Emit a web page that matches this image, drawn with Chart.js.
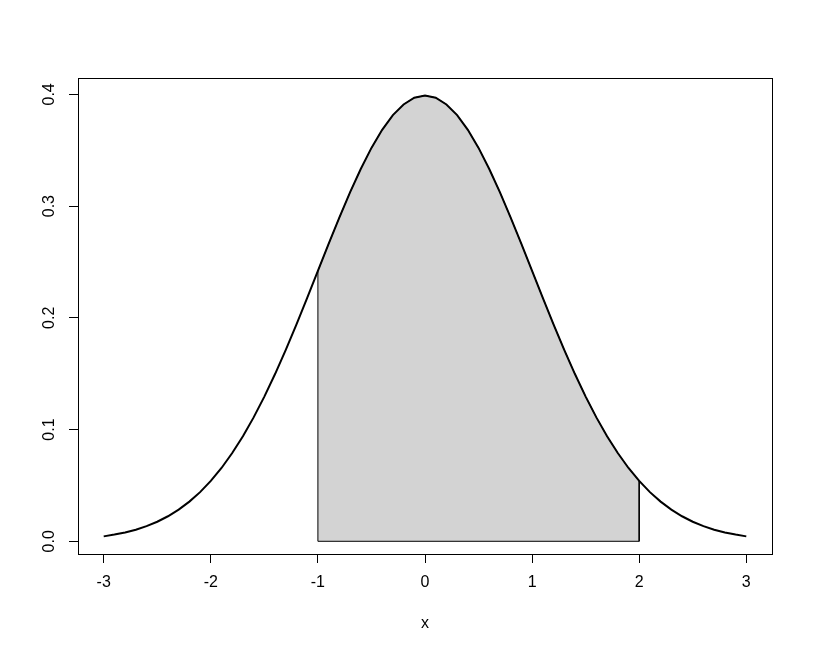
<!DOCTYPE html>
<html>
<head>
<meta charset="utf-8">
<script src="https://cdn.jsdelivr.net/npm/chart.js@4"></script>
<style>
  html, body { margin: 0; padding: 0; background: #fff; }
  #wrap { width: 813px; height: 652px; }
</style>
</head>
<body>
<div id="wrap"><canvas id="chart" width="813" height="652"></canvas></div>
<script>
// standard normal density
const xValues = [
  -3.0, -2.9, -2.8, -2.7, -2.6, -2.5, -2.4, -2.3, -2.2, -2.1,
  -2.0, -1.9, -1.8, -1.7, -1.6, -1.5, -1.4, -1.3, -1.2, -1.1,
  -1.0, -0.9, -0.8, -0.7, -0.6, -0.5, -0.4, -0.3, -0.2, -0.1,
   0.0,  0.1,  0.2,  0.3,  0.4,  0.5,  0.6,  0.7,  0.8,  0.9,
   1.0,  1.1,  1.2,  1.3,  1.4,  1.5,  1.6,  1.7,  1.8,  1.9,
   2.0,  2.1,  2.2,  2.3,  2.4,  2.5,  2.6,  2.7,  2.8,  2.9,
   3.0
];
const densityValues = [
  0.0044, 0.0060, 0.0079, 0.0104, 0.0136, 0.0175, 0.0224, 0.0283, 0.0355, 0.0440,
  0.0540, 0.0656, 0.0790, 0.0940, 0.1109, 0.1295, 0.1497, 0.1714, 0.1942, 0.2179,
  0.2420, 0.2661, 0.2897, 0.3123, 0.3332, 0.3521, 0.3683, 0.3814, 0.3910, 0.3970,
  0.3989, 0.3970, 0.3910, 0.3814, 0.3683, 0.3521, 0.3332, 0.3123, 0.2897, 0.2661,
  0.2420, 0.2179, 0.1942, 0.1714, 0.1497, 0.1295, 0.1109, 0.0940, 0.0790, 0.0656,
  0.0540, 0.0440, 0.0355, 0.0283, 0.0224, 0.0175, 0.0136, 0.0104, 0.0079, 0.0060,
  0.0044
];
const shadeFrom = -1;
const shadeTo = 2;
const xTicks = [-3, -2, -1, 0, 1, 2, 3];
const yTicks = [0.0, 0.1, 0.2, 0.3, 0.4];
const xTitle = 'x';

const curvePoints = xValues.map((x, i) => ({ x: x, y: densityValues[i] }));

// area under the curve between the two limits
const shadeArea = curvePoints.filter(p => p.x >= shadeFrom - 1e-9 && p.x <= shadeTo + 1e-9);
// outline of that polygon, closed along the bottom
const shadeOutline = [{ x: shadeFrom, y: 0 }].concat(shadeArea, [{ x: shadeTo, y: 0 }, { x: shadeFrom, y: 0 }]);

const font = { family: "'Liberation Sans', Arial, sans-serif", size: 16 };

// plot box and rotated y labels, R style
const boxPlugin = {
  id: 'box',
  afterDraw(chart) {
    const ctx = chart.ctx, a = chart.chartArea;
    ctx.save();
    ctx.strokeStyle = '#000';
    ctx.lineWidth = 1;
    ctx.strokeRect(Math.round(a.left) + 0.5, Math.round(a.top) + 0.5,
      Math.round(a.right - a.left), Math.round(a.bottom - a.top));

    const ys = chart.scales.y;
    ctx.fillStyle = '#000';
    ctx.font = font.size + 'px ' + font.family;
    ctx.textAlign = 'center';
    ctx.textBaseline = 'middle';
    yTicks.forEach(v => {
      const py = ys.getPixelForValue(v);
      ctx.save();
      ctx.translate(50, py);
      ctx.rotate(-Math.PI / 2);
      ctx.fillText(v.toFixed(1), 0, 0);
      ctx.restore();
    });
    ctx.restore();
  }
};

new Chart(document.getElementById('chart'), {
  type: 'line',
  data: {
    datasets: [
      {
        data: curvePoints,
        borderColor: '#000',
        borderWidth: 2,
        pointRadius: 0,
        tension: 0,
        fill: false,
        order: 0
      },
      {
        data: shadeOutline,
        borderColor: '#000',
        borderWidth: 1,
        pointRadius: 0,
        tension: 0,
        fill: false,
        order: 1
      },
      {
        data: shadeArea,
        borderColor: 'rgba(0,0,0,0)',
        borderWidth: 0,
        backgroundColor: '#d3d3d3',
        pointRadius: 0,
        tension: 0,
        fill: 'origin',
        order: 2
      }
    ]
  },
  options: {
    responsive: false,
    animation: false,
    layout: { padding: { left: 0, top: 78, right: 41, bottom: 0 } },
    plugins: { legend: { display: false }, tooltip: { enabled: false } },
    scales: {
      x: {
        type: 'linear',
        min: -3.24,
        max: 3.24,
        afterFit: s => { s.height = 98; },
        afterBuildTicks: s => { s.ticks = xTicks.map(v => ({ value: v })); },
        ticks: {
          includeBounds: false,
          stepSize: 1,
          color: '#000',
          font: font,
          padding: 10,
          maxRotation: 0,
          callback: v => String(v)
        },
        grid: { drawOnChartArea: false, drawTicks: true, tickLength: 9, color: '#000', tickColor: '#000' },
        border: { display: false },
        title: { display: true, text: xTitle, color: '#000', font: font, padding: { top: 0, bottom: 19 } }
      },
      y: {
        type: 'linear',
        min: -0.01138,
        max: 0.41466,
        afterFit: s => { s.width = 78; },
        afterBuildTicks: s => { s.ticks = yTicks.map(v => ({ value: v })); },
        ticks: { display: false, includeBounds: false },
        grid: { drawOnChartArea: false, drawTicks: true, tickLength: 9, color: '#000', tickColor: '#000' },
        border: { display: false }
      }
    }
  },
  plugins: [boxPlugin]
});
</script>
</body>
</html>
